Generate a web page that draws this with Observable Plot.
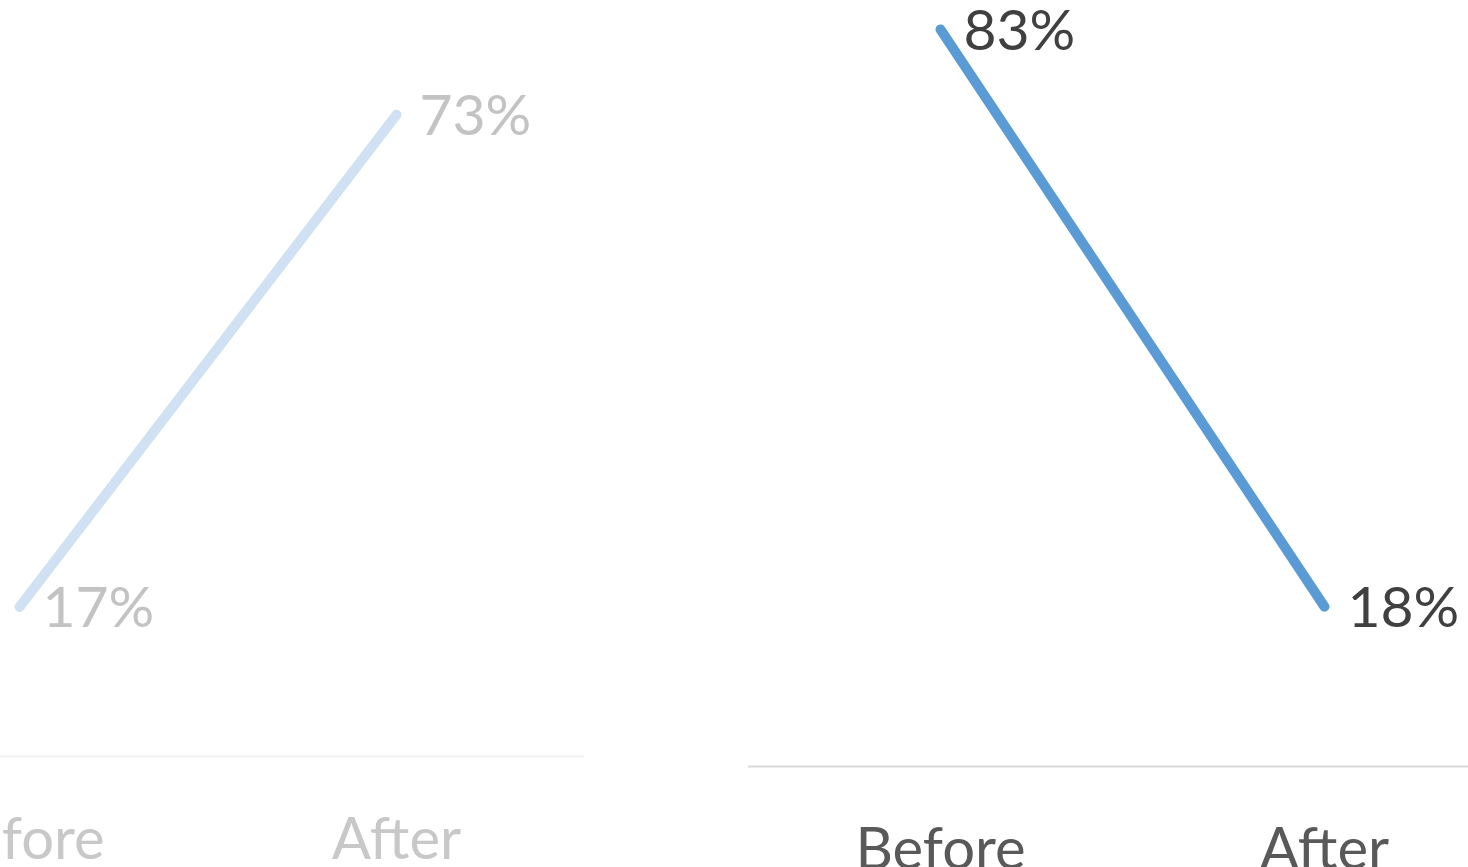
<!DOCTYPE html>
<html>
<head>
<meta charset="utf-8">
<script src="https://cdn.jsdelivr.net/npm/d3@7"></script>
<script src="https://cdn.jsdelivr.net/npm/@observablehq/plot@0.6"></script>
<style>
  html, body { margin: 0; padding: 0; background: #fff; width: 1468px; height: 867px; overflow: hidden; }
  #stage { position: relative; width: 1468px; height: 867px; overflow: hidden; }
  .panel { position: absolute; }
  .panel svg { max-width: none !important; }
</style>
</head>
<body>
<div id="stage">
  <div id="left" class="panel"></div>
  <div id="right" class="panel"></div>
</div>
<script>
// Data
const periods = ["Before", "After"];
const leftValues = [0.17, 0.73];   // faded series
const rightValues = [0.83, 0.18];  // highlighted series

function drawPanel({values, lineColor, labelColor, axisColor, ruleColor, width, plotHeight}) {
  const data = periods.map((p, i) => ({period: p, value: values[i]}));
  const marginTop = 22, marginBottom = 130;
  return Plot.plot({
    width,
    height: marginTop + plotHeight + marginBottom,
    marginTop, marginBottom, marginLeft: 0, marginRight: 0,
    style: {fontFamily: "Lato, 'Open Sans', sans-serif", background: "transparent", overflow: "visible", maxWidth: "none"},
    x: {type: "point", domain: periods, padding: 0.5, axis: null},
    y: {domain: [0, 1], axis: null},
    marks: [
      Plot.ruleY([0], {stroke: ruleColor, strokeWidth: 2}),
      Plot.axisX({tickSize: 0, tickPadding: 61, fontSize: 58, fill: axisColor, label: null}),
      Plot.line(data, {x: "period", y: "value", stroke: lineColor, strokeWidth: 10, strokeLinecap: "round", strokeLinejoin: "round"}),
      Plot.text(data, {x: "period", y: "value", text: d => Math.round(d.value * 100) + "%",
        textAnchor: "start", dx: 23, dy: 2, fontSize: 57, fill: labelColor})
    ]
  });
}

const left = document.getElementById("left");
left.style.left = "-170px";
left.style.top = "-145.5px";
left.style.width = "754px";
left.appendChild(drawPanel({
  values: leftValues, lineColor: "#cfe1f2", labelColor: "#c3c3c3",
  axisColor: "#c8c8c8", ruleColor: "#f2f2f2", width: 754, plotHeight: 879
}));

const right = document.getElementById("right");
right.style.left = "748px";
right.style.top = "-144px";
right.style.width = "768px";
right.appendChild(drawPanel({
  values: rightValues, lineColor: "#5b9bd5", labelColor: "#404040",
  axisColor: "#595959", ruleColor: "#d9d9d9", width: 768, plotHeight: 888
}));
</script>
</body>
</html>
